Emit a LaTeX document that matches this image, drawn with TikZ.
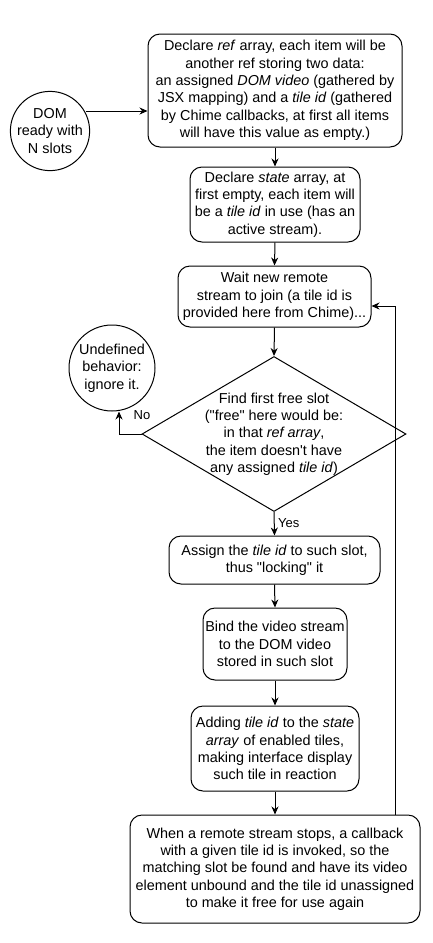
\documentclass[tikz,border=0pt]{standalone}
\usepackage{fontspec}
\setmainfont{Liberation Sans}
\usetikzlibrary{shapes.geometric,arrows.meta,calc}
\begin{document}
\begin{tikzpicture}[x=1pt,y=-1pt,
  txt/.style={align=center, inner sep=0pt, font=\fontsize{14.4}{17.3}\selectfont},
  box/.style={txt, draw, rounded corners=12pt, line width=1pt},
  circ/.style={txt, draw, circle, line width=1pt},
  arr/.style={-{Stealth[length=8pt,width=7pt]}, line width=1pt},
  lbl/.style={inner sep=0pt, font=\fontsize{13}{15}\selectfont}]
\useasboundingbox (0,0) rectangle (432,943);
\fill[white] (0,0) rectangle (432,943);

\node[circ, minimum size=70] (dom) at (50,131) {DOM\\ready with\\N slots};
\node[box, minimum width=254, minimum height=113] (b1) at (275,90.5)
  {Declare \textit{ref} array, each item will be\\another ref storing two data:\\an assigned \textit{DOM video} (gathered by\\JSX mapping) and a \textit{tile id} (gathered\\by Chime callbacks, at first all items\\will have this value as empty.)};
\node[box, minimum width=170, minimum height=75] (b2) at (275,204.5)
  {Declare \textit{state} array, at\\first empty, each item will\\be a \textit{tile id} in use (has an\\active stream).};
\node[box, minimum width=193, minimum height=61] (b3) at (274.5,296.5)
  {Wait new remote\\stream to join (a tile id is\\provided here from Chime)...};
\node[draw, diamond, line width=1pt, inner sep=0pt, minimum width=264, minimum height=155] (dia) at (274,434) {};
\node[txt] (diatext) at (dia.center)
  {Find first free slot\\(\textquotedbl free\textquotedbl{} here would be:\\in that \textit{ref array},\\the item doesn\textquotesingle t have\\any assigned \textit{tile id})};
\node[circ, minimum size=86] (und) at (112,368) {Undefined\\behavior:\\ignore it.};
\node[box, minimum width=211, minimum height=48] (b4) at (274.5,560)
  {Assign the \textit{tile id} to such slot,\\thus \textquotedbl locking\textquotedbl{} it};
\node[box, minimum width=144, minimum height=72] (b5) at (275,644)
  {Bind the video stream\\to the DOM video\\stored in such slot};
\node[box, minimum width=168, minimum height=85] (b6) at (275,748.5)
  {Adding \textit{tile id} to the \textit{state}\\\textit{array} of enabled tiles,\\making interface display\\such tile in reaction};
\node[box, minimum width=290, minimum height=108] (b7) at (275,869)
  {When a remote stream stops, a callback\\with a given tile id is invoked, so the\\matching slot be found and have its video\\element unbound and the tile id unassigned\\to make it free for use again};

\coordinate (domout) at (86,111);
\draw[arr] (domout) -- (domout -| b1.west);
\draw[arr] (b1.south) -- (b2.north);
\draw[arr] (b2.south) -- (b3.north);
\draw[arr] (b3.south) -- (dia.north);
\draw[arr] (dia.west) -| ([xshift=7pt]und.south);
\node[lbl] (no) at (142,415) {No};
\draw[arr] (dia.south) -- (b4.north);
\node[lbl, anchor=west] (yes) at (278,523) {Yes};
\draw[arr] (b4.south) -- (b5.north);
\draw[arr] (b5.south) -- (b6.north);
\draw[arr] (b6.south) -- (b7.north);
\draw[arr] ([xshift=120pt]b7.north) |- ([yshift=-9.5pt]b3.east);
\end{tikzpicture}
\end{document}
